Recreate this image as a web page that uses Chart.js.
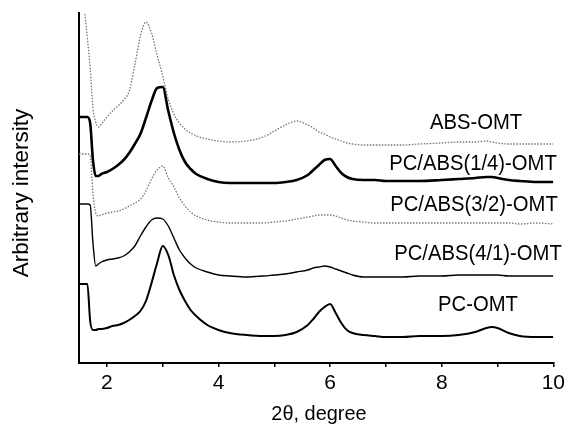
<!DOCTYPE html>
<html>
<head>
<meta charset="utf-8">
<script src="https://cdn.jsdelivr.net/npm/chart.js@4"></script>
<style>
  html, body { margin: 0; padding: 0; background: #fff; }
  #wrap { width: 569px; height: 428px; }
</style>
</head>
<body>
<div id="wrap"><canvas id="xrdCanvas" width="569" height="428"></canvas></div>
<script>
// 2theta grid (degree)
const theta = [1.5, 1.6, 1.65, 1.7, 1.75, 1.8, 1.85, 1.9, 2.0, 2.1, 2.2, 2.3, 2.4, 2.5, 2.6, 2.7, 2.8, 2.9,
  3.0, 3.1, 3.2, 3.3, 3.4, 3.5, 3.6, 3.8, 4.0, 4.2, 4.5, 4.8, 5.0, 5.2, 5.4, 5.6, 5.7, 5.8, 5.9,
  6.0, 6.1, 6.2, 6.3, 6.4, 6.6, 6.8, 7.0, 7.3, 7.6, 8.0, 8.3, 8.6, 8.8, 8.9, 9.0, 9.2, 9.4, 9.7, 10.0];

// curves, already stacked (arbitrary units)
const absOmt = [null, 352, 325, 295, 255, 241, 236, 239, 246, 252, 257, 263, 272, 298, 327, 341, 330, 308,
  287, 264, 249, 240, 234, 230, 227, 224, 222, 221, 222, 226, 232, 238, 242, 238, 235, 231, 229,
  226, 224, 222, 220, 219, 218, 218, 218, 218, 219, 220, 221, 221, 222, 221, 220, 219, 219, 219, 219];
const pcAbs14 = [246, 246, 246, 240, 203, 187, 187, 189, 191, 194, 198, 203, 210, 219, 229, 245, 262, 275,
  276, 252, 230, 213, 201, 194, 189, 184, 181, 180, 180, 180, 180, 181, 183, 188, 193, 198, 203,
  204, 197, 190, 186, 184, 183, 183, 182, 182, 182, 183, 184, 185, 186, 186, 185, 183, 182, 181, 181];
const pcAbs32 = [209, 209, 209, 208, 170, 150, 147, 148, 150, 151, 152, 154, 157, 160, 164, 172, 184, 193,
  197, 185, 176, 165, 157, 151, 147, 143, 141, 140, 140, 140, 141, 142, 144, 146, 147, 148, 148,
  148, 147, 145, 143, 142, 141, 140, 140, 140, 140, 140, 140, 140, 140, 140, 140, 140, 139, 140, 139];
const pcAbs41 = [159, 159, 159, 158, 120, 97, 99, 101, 103, 104, 105, 107, 111, 117, 127, 136, 143, 145,
  144, 137, 125, 113, 105, 99, 95, 91, 88, 87, 86, 87, 88, 89, 91, 93, 95, 96, 97,
  96, 94, 92, 90, 88, 86, 86, 86, 86, 87, 87, 88, 88, 88, 88, 88, 87, 87, 87, 87];
const pcOmt = [79, 79, 79, 42, 33, 33, 34, 34, 35, 37, 38, 40, 43, 47, 52, 62, 80, 100,
  117, 108, 88, 73, 62, 53, 47, 38, 33, 30, 28, 27, 27, 28, 31, 38, 44, 51, 56,
  59, 50, 40, 33, 30, 28, 27, 26, 26, 27, 27, 28, 31, 35, 36, 35, 30, 27, 26, 26];

const seriesNames = ['ABS-OMT', 'PC/ABS(1/4)-OMT', 'PC/ABS(3/2)-OMT', 'PC/ABS(4/1)-OMT', 'PC-OMT'];
const xTicks = [2, 3, 4, 5, 6, 7, 8, 9, 10];
const xTickLabels = ['2', '', '4', '', '6', '', '8', '', '10'];

const FONT = '"Liberation Sans", Arial, sans-serif';

function pts(vals) {
  return theta.map((t, i) => ({ x: t, y: vals[i] }));
}

// squeezed text, the original lettering is a bit narrow
function narrowText(ctx, txt, x, y, size, sx) {
  ctx.save();
  ctx.translate(x, y);
  ctx.scale(sx, 1);
  ctx.font = size + 'px ' + FONT;
  ctx.fillText(txt, 0, 0);
  ctx.restore();
}

// curve names and axis titles
const textPlugin = {
  id: 'texts',
  afterDraw(chart) {
    const ctx = chart.ctx;
    ctx.save();
    ctx.fillStyle = '#000';
    ctx.textAlign = 'center';
    ctx.textBaseline = 'middle';
    const spots = [[476, 123], [473, 164], [474, 205], [478, 254], [478, 305]];
    seriesNames.forEach((n, i) => narrowText(ctx, n, spots[i][0], spots[i][1], 22, 0.92));
    narrowText(ctx, '2\u03b8, degree', 319, 414, 21, 0.95);
    ctx.translate(22, 193);
    ctx.rotate(-Math.PI / 2);
    narrowText(ctx, 'Arbitrary intersity', 0, 0, 22, 1.02);
    ctx.restore();
  }
};

const ctx = document.getElementById('xrdCanvas').getContext('2d');
new Chart(ctx, {
  type: 'line',
  data: {
    datasets: [
      { label: seriesNames[0], data: pts(absOmt), borderColor: '#777', borderWidth: 1.3, borderDash: [1.5, 1.5] },
      { label: seriesNames[1], data: pts(pcAbs14), borderColor: '#000', borderWidth: 2.6 },
      { label: seriesNames[2], data: pts(pcAbs32), borderColor: '#777', borderWidth: 1.3, borderDash: [1.5, 1.5] },
      { label: seriesNames[3], data: pts(pcAbs41), borderColor: '#000', borderWidth: 1.4 },
      { label: seriesNames[4], data: pts(pcOmt), borderColor: '#000', borderWidth: 2 }
    ]
  },
  options: {
    responsive: false,
    animation: false,
    layout: { padding: { top: 13, right: 13, left: 0, bottom: 0 } },
    elements: { point: { radius: 0 }, line: { tension: 0.3, cubicInterpolationMode: 'monotone' } },
    plugins: { legend: { display: false }, tooltip: { enabled: false } },
    scales: {
      x: {
        type: 'linear',
        min: 1.5,
        max: 10,
        afterBuildTicks: s => { s.ticks = xTicks.map(v => ({ value: v })); },
        afterFit: s => { s.height = 65; },
        grid: { display: true, drawOnChartArea: false, drawTicks: true, tickLength: 4, color: '#000', lineWidth: 1.5 },
        border: { display: true, color: '#000', width: 2 },
        ticks: {
          color: '#000',
          padding: 4,
          maxRotation: 0,
          font: { family: FONT, size: 21 },
          callback: (v, i) => xTickLabels[i]
        }
      },
      y: {
        type: 'linear',
        min: 0,
        max: 350,
        afterFit: s => { s.width = 79; },
        grid: { display: false },
        border: { display: true, color: '#000', width: 2 },
        ticks: { display: false }
      }
    }
  },
  plugins: [textPlugin]
});
</script>
</body>
</html>
